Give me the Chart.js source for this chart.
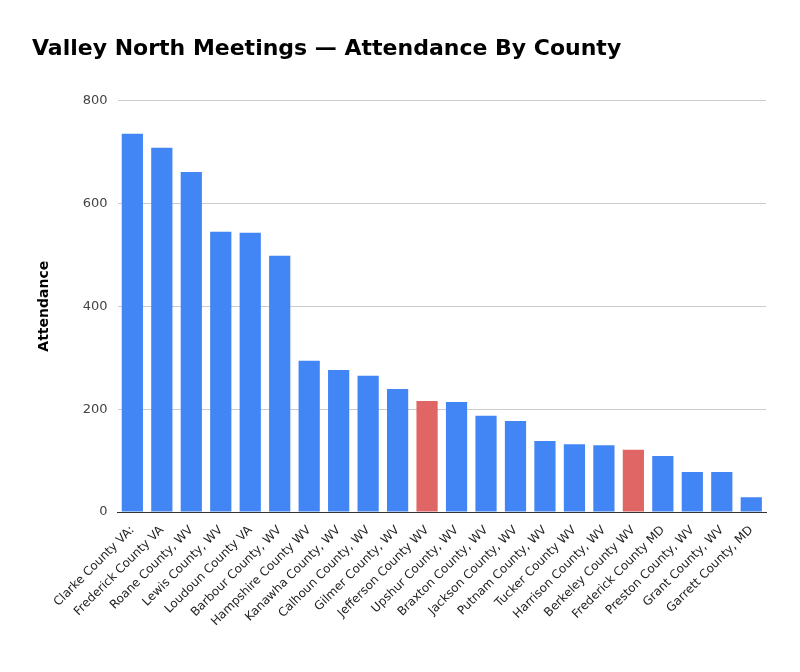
<!DOCTYPE html>
<html>
<head>
<meta charset="utf-8">
<script src="https://cdn.jsdelivr.net/npm/chart.js@4"></script>
<style>
  html, body { margin: 0; padding: 0; background: #fff; }
  #wrap { width: 800px; height: 672px; }
</style>
</head>
<body>
<div id="wrap"><canvas id="myChart"></canvas></div>
<script>
// data
const counties = ['Clarke County VA:', 'Frederick County VA', 'Roane County, WV', 'Lewis County, WV',
  'Loudoun County VA', 'Barbour County, WV', 'Hampshire County WV', 'Kanawha County, WV',
  'Calhoun County, WV', 'Gilmer County, WV', 'Jefferson County WV', 'Upshur County, WV',
  'Braxton County, WV', 'Jackson County, WV', 'Putnam County, WV', 'Tucker County WV',
  'Harrison County, WV', 'Berkeley County WV', 'Frederick County MD', 'Preston County, WV',
  'Grant County, WV', 'Garrett County, MD'];
const attendance = [735, 708, 661, 545, 543, 498, 294, 276, 265, 239, 216, 214, 187, 177, 138, 132, 130, 121, 109, 78, 78, 29];
const highlighted = ['Jefferson County WV', 'Berkeley County WV'];
const yTicks = [0, 200, 400, 600, 800];

const blue = '#4285f4';
const red = '#e06666';

const ctx = document.getElementById('myChart').getContext('2d');
new Chart(ctx, {
  type: 'bar',
  data: {
    labels: counties,
    datasets: [{
      label: 'Attendance',
      data: attendance,
      backgroundColor: counties.map(c => highlighted.includes(c) ? red : blue),
      borderWidth: 0,
      categoryPercentage: 0.72,
      barPercentage: 1
    }]
  },
  options: {
    responsive: true,
    maintainAspectRatio: false,
    animation: false,
    layout: { padding: { left: 32, right: 34, top: 10, bottom: 40 } },
    plugins: {
      legend: { display: false },
      tooltip: { enabled: false },
      title: {
        display: true,
        text: 'Valley North Meetings — Attendance By County',
        align: 'start',
        color: '#000',
        font: { family: 'Verdana, "DejaVu Sans", sans-serif', size: 22, weight: 'bold' },
        padding: { top: 26, bottom: 38 }
      }
    },
    scales: {
      x: {
        grid: { display: false },
        border: { color: '#333' },
        ticks: {
          color: '#222',
          maxRotation: 45,
          minRotation: 45,
          autoSkip: false,
          font: { family: 'Verdana, "DejaVu Sans", sans-serif', size: 12 }
        }
      },
      y: {
        min: 0,
        max: 800,
        afterBuildTicks: axis => { axis.ticks = yTicks.map(v => ({ value: v })); },
        grid: { color: '#cccccc', drawTicks: false },
        border: { display: false },
        ticks: {
          color: '#444',
          padding: 10,
          font: { family: 'Verdana, "DejaVu Sans", sans-serif', size: 13 }
        },
        title: {
          display: true,
          text: 'Attendance',
          color: '#000',
          padding: { bottom: 20 },
          font: { family: 'Verdana, "DejaVu Sans", sans-serif', size: 14, weight: 'bold' }
        }
      }
    }
  }
});
</script>
</body>
</html>
